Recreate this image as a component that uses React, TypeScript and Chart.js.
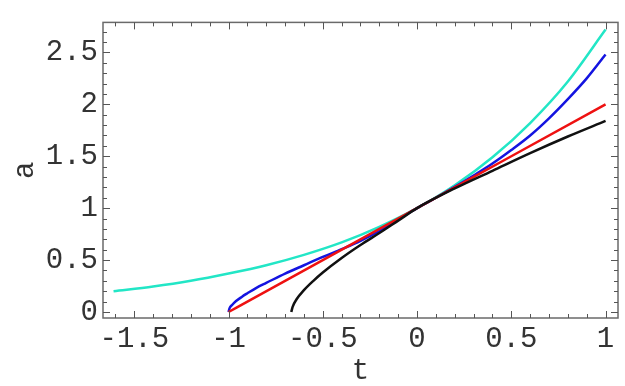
import React, { useEffect, useRef } from "react";
import { Chart, registerables } from "chart.js";

Chart.register(...registerables);

// t-axis and a-axis tick labels / titles
const xTickValues = [-1.5, -1, -0.5, 0, 0.5, 1];
const yTickValues = [0, 0.5, 1, 1.5, 2, 2.5];
const xTitle = "t";
const yTitle = "a";

// cyan curve
const cyanT = [-1.61, -1.4, -1.2, -1, -0.8, -0.6, -0.4, -0.2, 0, 0.2, 0.4, 0.6, 0.8, 1];
const cyanA = [0.2, 0.245, 0.3, 0.37, 0.45, 0.55, 0.67, 0.82, 1, 1.22, 1.49, 1.82, 2.22, 2.72];

// blue curve
const blueT = [-1, -0.995, -0.98, -0.96, -0.93, -0.9, -0.85, -0.8, -0.7, -0.6, -0.5, -0.4, -0.3, -0.2, -0.1, 0, 0.1, 0.2, 0.3, 0.4, 0.5, 0.6, 0.7, 0.8, 0.9, 1];
const blueA = [0, 0.035, 0.07, 0.105, 0.145, 0.18, 0.235, 0.28, 0.37, 0.45, 0.53, 0.605, 0.685, 0.78, 0.89, 1.0, 1.1, 1.205, 1.315, 1.43, 1.56, 1.7, 1.865, 2.05, 2.25, 2.48];

// red curve
const redT = [-1, -0.5, 0, 0.5, 1];
const redA = [0, 0.5, 1, 1.5, 2];

// black curve
const blackT = [-0.667, -0.66, -0.64, -0.6, -0.55, -0.5, -0.4, -0.3, -0.2, -0.1, 0, 0.2, 0.4, 0.6, 0.8, 1];
const blackA = [0, 0.05, 0.12, 0.21, 0.3, 0.38, 0.52, 0.645, 0.76, 0.88, 1, 1.19, 1.36, 1.53, 1.69, 1.84];

const toPts = (xs: number[], ys: number[]) => xs.map((x, i) => ({ x, y: ys[i] }));

const FONT = "'Liberation Mono', 'DejaVu Sans Mono', monospace";
const TEXT = "#333333";

const framePlugin = {
  id: "frameTicks",
  afterDatasetsDraw(chart: any) {
    const { ctx, chartArea } = chart;
    const { left, right, top, bottom } = chartArea;
    const xs = chart.scales.x;
    const ys = chart.scales.y;
    ctx.save();
    ctx.strokeStyle = "#6a6a6a";
    ctx.lineWidth = 1.5;
    ctx.strokeRect(left, top, right - left, bottom - top);
    ctx.lineWidth = 1;
    ctx.strokeStyle = "#555";
    ctx.beginPath();
    for (let i = -17; i <= 10; i++) {
      const v = i / 10;
      if (v < xs.min || v > xs.max) continue;
      const major = i % 5 === 0;
      const len = major ? 7 : 4;
      const px = Math.round(xs.getPixelForValue(v)) + 0.5;
      ctx.moveTo(px, bottom);
      ctx.lineTo(px, bottom - len);
      ctx.moveTo(px, top);
      ctx.lineTo(px, top + len);
    }
    for (let i = 0; i <= 27; i++) {
      const v = i / 10;
      if (v < ys.min || v > ys.max) continue;
      const major = i % 5 === 0;
      const len = major ? 7 : 4;
      const py = Math.round(ys.getPixelForValue(v)) + 0.5;
      ctx.moveTo(left, py);
      ctx.lineTo(left + len, py);
      ctx.moveTo(right, py);
      ctx.lineTo(right - len, py);
    }
    ctx.stroke();
    ctx.restore();
  },
};

export default function App() {
  const ref = useRef<HTMLCanvasElement | null>(null);
  useEffect(() => {
    document.body.style.margin = "0";
    const canvas = ref.current;
    if (!canvas) return;
    const common = {
      pointRadius: 0,
      borderWidth: 2.5,
      fill: false,
      cubicInterpolationMode: "monotone" as const,
    };
    const chart = new Chart(canvas, {
      type: "line",
      data: {
        datasets: [
          { ...common, data: toPts(blackT, blackA), borderColor: "#111111" },
          { ...common, data: toPts(redT, redA), borderColor: "#ee1111" },
          { ...common, data: toPts(blueT, blueA), borderColor: "#1414e0" },
          { ...common, data: toPts(cyanT, cyanA), borderColor: "#22e6c6" },
        ],
      },
      options: {
        animation: false,
        responsive: false,
        devicePixelRatio: 1,
        layout: { padding: { left: 0, right: 7, top: 0, bottom: 0 } },
        plugins: { legend: { display: false }, tooltip: { enabled: false } },
        scales: {
          x: {
            type: "linear",
            min: -1.666,
            max: 1.066,
            grid: { display: false, drawTicks: false },
            border: { display: false },
            afterBuildTicks: (s: any) => {
              s.ticks = xTickValues.map((v) => ({ value: v }));
            },
            afterFit: (s: any) => {
              s.height = 68;
            },
            ticks: {
              autoSkip: false,
              maxRotation: 0,
              padding: 4,
              color: TEXT,
              font: { family: FONT, size: 29 },
              callback: (v: any) => String(v),
            },
            title: {
              display: true,
              text: xTitle,
              color: TEXT,
              font: { family: FONT, size: 29, lineHeight: 1 },
              padding: { top: 0, bottom: 0 },
            },
          },
          y: {
            type: "linear",
            min: -0.058,
            max: 2.789,
            grid: { display: false, drawTicks: false },
            border: { display: false },
            afterBuildTicks: (s: any) => {
              s.ticks = yTickValues.map((v) => ({ value: v }));
            },
            afterFit: (s: any) => {
              s.width = 103;
            },
            ticks: {
              autoSkip: false,
              padding: 5,
              color: TEXT,
              font: { family: FONT, size: 29 },
              callback: (v: any) => String(v),
            },
            title: {
              display: true,
              text: yTitle,
              color: TEXT,
              font: { family: FONT, size: 29, lineHeight: 1 },
              padding: { top: 11, bottom: 0 },
            },
          },
        },
      },
      plugins: [framePlugin],
    });
    return () => chart.destroy();
  }, []);
  return (
    <div style={{ width: 625, height: 386, background: "#fff" }}>
      <canvas ref={ref} width={625} height={386} style={{ display: "block" }} />
    </div>
  );
}
